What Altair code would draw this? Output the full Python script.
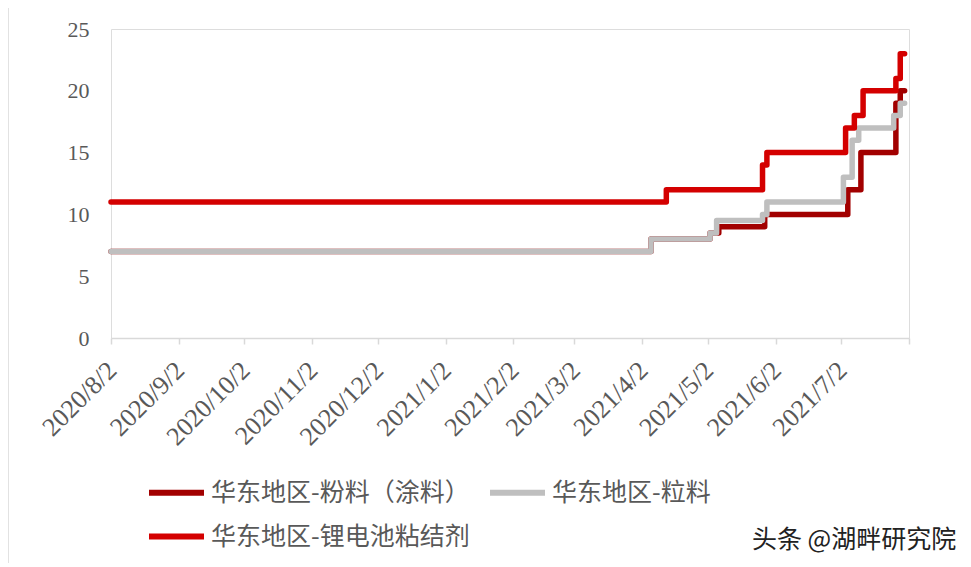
import altair as alt
import pandas as pd

# ---------------- data ----------------
series_names = ["华东地区-粉料（涂料）", "华东地区-粒料", "华东地区-锂电池粘结剂"]
series_colors = ["#A20000", "#BFBFBF", "#D40000"]

powder_dates = ["2020-08-02", "2021-04-06", "2021-05-03", "2021-05-07", "2021-05-28",
                "2021-07-05", "2021-07-11", "2021-07-27", "2021-07-29", "2021-07-31"]
powder_values = [7, 8, 8.5, 9, 10, 12, 15, 19, 20, 20]

granule_dates = ["2020-08-02", "2021-04-06", "2021-05-03", "2021-05-06", "2021-05-27",
                 "2021-05-29", "2021-07-03", "2021-07-07", "2021-07-10", "2021-07-26",
                 "2021-07-29", "2021-07-31"]
granule_values = [7, 8, 8.5, 9.5, 10, 11, 13, 16, 17, 18, 19, 19]

binder_dates = ["2020-08-02", "2021-04-13", "2021-05-27", "2021-05-29", "2021-07-04",
                "2021-07-08", "2021-07-12", "2021-07-27", "2021-07-29", "2021-07-31"]
binder_values = [11, 12, 14, 15, 17, 18, 20, 21, 23, 23]

x_tick_dates = ["2020-08-02", "2020-09-02", "2020-10-02", "2020-11-02", "2020-12-02",
                "2021-01-02", "2021-02-02", "2021-03-02", "2021-04-02", "2021-05-02",
                "2021-06-02", "2021-07-02", "2021-08-02"]
y_ticks = [0, 5, 10, 15, 20, 25]
watermark = "头条 @湖畔研究院"

# ---------------- build table ----------------
rows = []
for name, dates, vals in [(series_names[0], powder_dates, powder_values),
                          (series_names[1], granule_dates, granule_values),
                          (series_names[2], binder_dates, binder_values)]:
    for d, v in zip(dates, vals):
        rows.append({"date": d, "value": v, "series": name})
df = pd.DataFrame(rows)

def ms(d):
    return int(pd.Timestamp(d, tz="UTC").value // 10**6)

tick_ms = [ms(d) for d in x_tick_dates]
x_domain = [tick_ms[0], tick_ms[-1]]

label_color = "#595959"
axis_color = "#D9D9D9"

x_enc = alt.X(
    "date:T",
    scale=alt.Scale(type="utc", domain=x_domain),
    axis=alt.Axis(
        values=tick_ms,
        labelExpr="datum.index >= 1 ? '' : utcFormat(datum.value, '%Y/%-m/%-d')",
        labelAngle=-45, labelAlign="right", labelBaseline="middle",
        labelFont="Liberation Serif", labelFontSize=26, labelColor=label_color,
        labelPadding=22, labelOffset=1, labelOverlap=False, labelFlush=False,
        labelBound=False,
        domainColor=axis_color, domainWidth=1.5, tickColor=axis_color, tickWidth=1.5,
        tickSize=6, grid=False, title=None,
    ),
)
y_enc = alt.Y(
    "value:Q",
    scale=alt.Scale(domain=[0, 25], nice=False),
    axis=alt.Axis(
        values=y_ticks, domain=False, ticks=False, grid=False, title=None,
        labelFont="Liberation Serif", labelFontSize=22, labelColor=label_color,
        labelPadding=22,
    ),
)
color_enc = alt.Color(
    "series:N",
    scale=alt.Scale(domain=series_names, range=series_colors),
    legend=alt.Legend(
        title=None, orient="none", legendX=35, legendY=433, columns=2,
        direction="horizontal",
        symbolType="stroke", symbolStrokeWidth=6, symbolSize=3025,
        labelFont="Noto Sans CJK SC", labelFontSize=25, labelColor=label_color,
        labelLimit=800, labelOffset=4, columnPadding=8, rowPadding=-18,
    ),
)

base = alt.Chart(df).mark_line(
    interpolate="step-after", strokeWidth=5.5, strokeCap="round", strokeJoin="round"
).encode(x=x_enc, y=y_enc, color=color_enc)

layers = [base.transform_filter(alt.datum.series == n) for n in series_names]

one = pd.DataFrame({"k": [0]})
frame = alt.Chart(one).mark_rule(color=axis_color, strokeWidth=1.5).encode(
    x=alt.value(-103), y=alt.value(-21), y2=alt.value(540)
)
wm = alt.Chart(one).mark_text(
    text=watermark, font="Noto Sans CJK SC", fontSize=25, color="#222222",
    align="left", baseline="middle"
).encode(x=alt.value(641), y=alt.value(511))

chart = alt.layer(frame, *layers, wm).properties(
    width=798, height=309,
    padding={"left": 103, "top": 21, "right": 50, "bottom": 225},
    autosize=alt.AutoSizeParams(type="none"),
).configure_view(stroke=None).configure(background="white")

chart.save("out.html", embed_options={"renderer": "svg", "actions": False})
